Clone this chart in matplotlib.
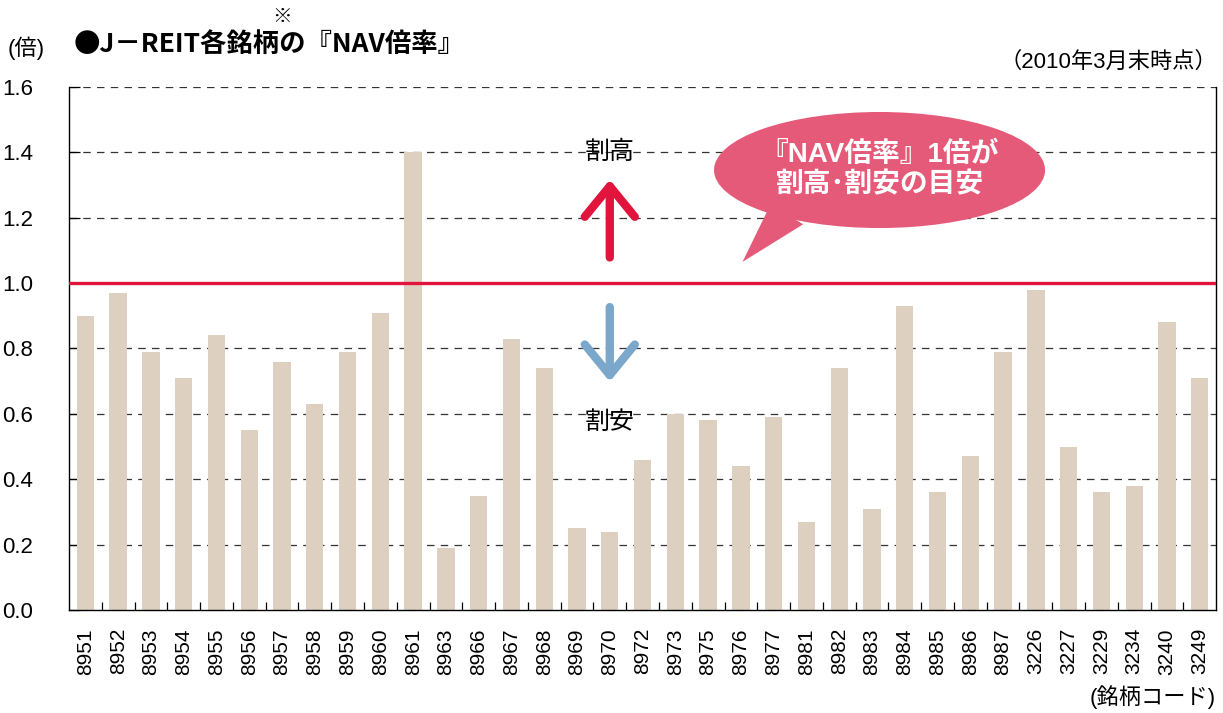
import matplotlib
matplotlib.use('Agg')
import matplotlib.pyplot as plt
from matplotlib.patches import Ellipse, Polygon, FancyArrowPatch

plt.rcParams['font.family'] = ['Liberation Sans', 'Noto Sans CJK JP', 'DejaVu Sans']

codes = ['8951', '8952', '8953', '8954', '8955', '8956', '8957', '8958', '8959',
         '8960', '8961', '8963', '8966', '8967', '8968', '8969', '8970', '8972',
         '8973', '8975', '8976', '8977', '8981', '8982', '8983', '8984', '8985',
         '8986', '8987', '3226', '3227', '3229', '3234', '3240', '3249']
nav_ratio = [0.90, 0.97, 0.79, 0.71, 0.84, 0.55, 0.76, 0.63, 0.79,
             0.91, 1.40, 0.19, 0.35, 0.83, 0.74, 0.25, 0.24, 0.46,
             0.60, 0.58, 0.44, 0.59, 0.27, 0.74, 0.31, 0.93, 0.36,
             0.47, 0.79, 0.98, 0.50, 0.36, 0.38, 0.88, 0.71]
y_ticks = [0.0, 0.2, 0.4, 0.6, 0.8, 1.0, 1.2, 1.4, 1.6]
grid_levels = [0.2, 0.4, 0.6, 0.8, 1.2, 1.4, 1.6]

bar_color = '#ddd0c0'
red = '#e0143c'
pink = '#e55a78'
blue = '#7ba7cb'

fig = plt.figure(figsize=(12.23, 7.13), dpi=100)
ax = fig.add_axes([0.0564, 0.1445, 0.938, 0.7335])

x = list(range(len(codes)))
for g in grid_levels:
    ax.axhline(g, color='#333333', lw=0.9, ls=(0, (6, 5)), zorder=1)
ax.bar(x, nav_ratio, width=0.53, color=bar_color, zorder=2)
ax.axhline(1.0, color=red, lw=2.4, zorder=3)

ax.set_xlim(-0.5, len(codes) - 0.5)
ax.set_ylim(0, 1.6)
ax.set_yticks(y_ticks)
ax.set_yticklabels([f'{v:.1f}' for v in y_ticks], fontsize=16)
ax.tick_params(axis='y', direction='in', length=8, pad=26, width=0.9)
ax.set_xticks([i + 0.5 for i in x[:-1]])
ax.set_xticklabels([])
ax.tick_params(axis='x', direction='in', length=6, width=0.9)
ax.set_xticks(x, minor=True)
ax.set_xticklabels(codes, minor=True, rotation=90, fontsize=15)
ax.tick_params(axis='x', which='minor', length=0, pad=13)
ax.spines['top'].set_visible(False)
for s in ['left', 'bottom', 'right']:
    ax.spines[s].set_linewidth(1.0)

# arrows and labels
ax.add_patch(FancyArrowPatch((16, 1.07), (16, 1.325), arrowstyle='->,head_length=0.55,head_width=0.45',
                             mutation_scale=40, color=red, lw=6, capstyle='round',
                             joinstyle='round', zorder=4))
ax.add_patch(FancyArrowPatch((16, 0.935), (16, 0.69), arrowstyle='->,head_length=0.55,head_width=0.45',
                             mutation_scale=40, color=blue, lw=6, capstyle='round',
                             joinstyle='round', zorder=4))
ax.text(16, 1.40, '割高', ha='center', va='center', fontsize=18, zorder=5)
ax.text(16, 0.575, '割安', ha='center', va='center', fontsize=18, zorder=5)

# speech bubble
ax.add_patch(Polygon([(20.05, 1.065), (20.9, 1.24), (21.9, 1.18)], closed=True,
                     color=pink, lw=0, zorder=5))
ax.add_patch(Ellipse((24.23, 1.346), 10.1, 0.355, color=pink, lw=0, zorder=5))
ax.text(24.23, 1.346, '『NAV倍率』1倍が\n割高･割安の目安', ha='center', va='center',
        fontsize=20, fontweight='bold', color='white', linespacing=1.25, zorder=6)

# titles
fig.text(0.060, 0.938, '●J－REIT各銘柄の『NAV倍率』', fontsize=19, fontweight='bold',
         ha='left', va='center', family=['Noto Sans CJK JP'])
fig.text(0.2305, 0.977, '※', fontsize=14, fontweight='bold', ha='center', va='center',
         family=['Noto Sans CJK JP'])
fig.text(0.0065, 0.933, '(倍)', fontsize=16, ha='left', va='center')
fig.text(0.995, 0.912, '（2010年3月末時点）', fontsize=16, ha='right', va='center')
fig.text(0.994, 0.023, '(銘柄コード)', fontsize=16, ha='right', va='center')

fig.savefig('out.png', dpi=100)
